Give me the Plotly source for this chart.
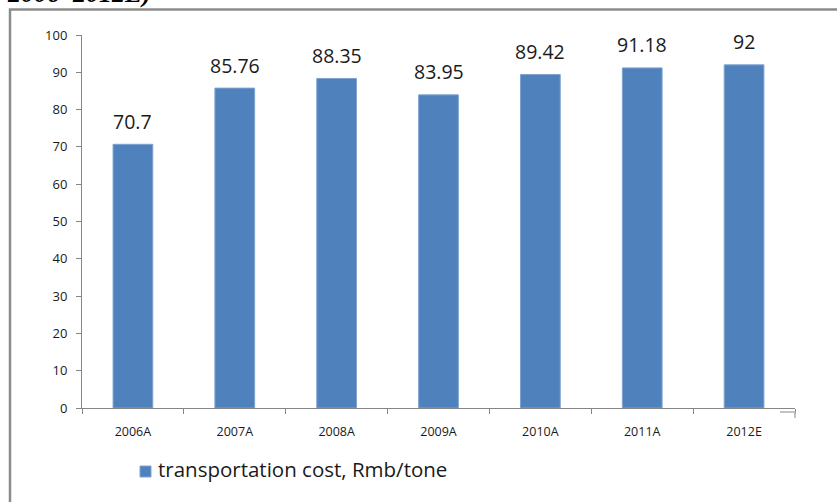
import plotly.graph_objects as go

# data
years = ["2006A", "2007A", "2008A", "2009A", "2010A", "2011A", "2012E"]
cost = [70.7, 85.76, 88.35, 83.95, 89.42, 91.18, 92]
labels = ["70.7", "85.76", "88.35", "83.95", "89.42", "91.18", "92"]
y_ticks = [0, 10, 20, 30, 40, 50, 60, 70, 80, 90, 100]
series_name = "transportation cost, Rmb/tone"

BAR = "#4F81BD"
BAR_EDGE = "#7FA3D1"
AXIS = "#868686"
TEXT = "#1a1a1a"
FONT = "'Open Sans', 'Noto Sans', sans-serif"

W, H = 837, 502
L, R, T, B = 82, 42, 35, 94
pw, ph = W - L - R, H - T - B


def px_x(px):
    return (px - L) / pw


def px_y(py):
    return (H - B - py) / ph


fig = go.Figure(go.Bar(
    x=years, y=cost,
    name=series_name,
    marker=dict(color=BAR, line=dict(color=BAR_EDGE, width=1)),
    width=0.39,
    showlegend=False,
))

# value labels, sitting well above each bar like the Excel original
for yr, v, lab in zip(years, cost, labels):
    fig.add_annotation(
        x=yr, y=v, text=lab, showarrow=False,
        yanchor="middle", yshift=23,
        font=dict(family=FONT, size=19.5, color=TEXT),
    )

fig.update_layout(
    width=W, height=H,
    margin=dict(l=L, r=R, t=T, b=B, autoexpand=False),
    plot_bgcolor="white",
    paper_bgcolor="white",
    font=dict(family=FONT, color=TEXT),
    xaxis=dict(
        range=[-0.5, 6.5],
        showline=True, linecolor=AXIS, linewidth=1,
        ticks="outside", ticklen=5, tickcolor=AXIS,
        tickson="boundaries",
        ticklabelstandoff=12,
        tickfont=dict(size=12.5, color=TEXT),
        showgrid=False,
    ),
    yaxis=dict(
        range=[0, 100],
        tickvals=y_ticks,
        showline=True, linecolor=AXIS, linewidth=1,
        ticks="outside", ticklen=5, tickcolor=AXIS,
        ticklabelstandoff=6,
        tickfont=dict(size=13, color=TEXT),
        showgrid=False, zeroline=False,
    ),
)

# legend drawn by hand, Excel style
fig.add_shape(
    type="rect", xref="paper", yref="paper",
    x0=px_x(140), x1=px_x(151), y0=px_y(477), y1=px_y(466),
    fillcolor=BAR, line=dict(color=BAR_EDGE, width=1),
)
fig.add_annotation(
    text=series_name,
    xref="paper", yref="paper",
    x=px_x(156), y=px_y(469), xanchor="left", yanchor="middle",
    showarrow=False,
    font=dict(family=FONT, size=20.5, color=TEXT),
)

# outer frame of the pasted chart
fig.add_shape(
    type="rect", xref="paper", yref="paper",
    x0=px_x(10), x1=px_x(845), y0=px_y(510), y1=px_y(9.5),
    line=dict(color="#8c8c8c", width=2.5), layer="below",
)
# small leftover corner mark on the right
fig.add_shape(
    type="path", xref="paper", yref="paper",
    path=f"M {px_x(780)},{px_y(412)} L {px_x(795)},{px_y(412)} L {px_x(795)},{px_y(418)}",
    line=dict(color="#b0b0b0", width=1.5),
)

# cut-off caption above the frame
fig.add_annotation(
    text="<b><i>2006–2012E)</i></b>",
    xref="paper", yref="paper",
    x=px_x(5), y=px_y(10), xanchor="left", yanchor="bottom",
    showarrow=False,
    font=dict(family="Liberation Serif", size=26, color="black"),
)

fig.write_html(
    "out.html",
    config={"displayModeBar": False},
    post_script="document.body.style.margin='0';",
)
